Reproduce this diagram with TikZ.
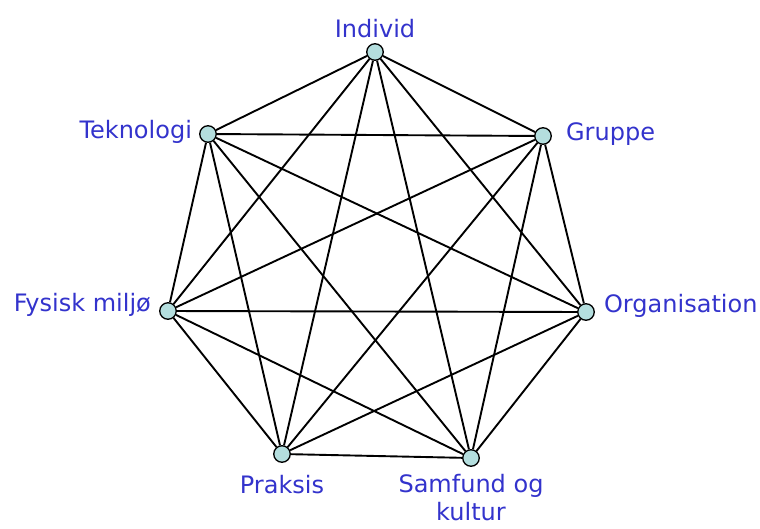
\documentclass[tikz,border=0pt]{standalone}
\usepackage{fontspec}
\setmainfont{DejaVu Sans}
\usetikzlibrary{positioning}
\definecolor{lblblue}{RGB}{51,51,204}
\definecolor{vtxfill}{RGB}{180,222,222}
\tikzset{
  vtx/.style  = {draw, circle, fill=vtxfill, minimum size=16.5pt, inner sep=0pt,
                 line width=1.3pt},
  lbl/.style  = {text=lblblue, font=\fontsize{24}{28}\selectfont, inner sep=2pt},
  edge/.style = {line width=1.9pt},
}

\begin{document}
\begin{tikzpicture}[x=1pt, y=-1pt]
  \useasboundingbox (0,0) rectangle (760,528);
  \node[vtx] (ind) at (375,52)  {};
  \node[vtx] (gru) at (543,136) {};
  \node[vtx] (org) at (586,312) {};
  \node[vtx] (sam) at (471,458) {};
  \node[vtx] (pra) at (282,454) {};
  \node[vtx] (fys) at (168,311) {};
  \node[vtx] (tek) at (208,134) {};
  % labels
  \node[lbl, above=3pt of ind] (lind) {Individ};
  \node[lbl, right=12pt of gru, yshift=2pt] (lgru) {Gruppe};
  \node[lbl, anchor=base west] (lorg) at ([xshift=7pt]org.east) {Organisation};
  \node[lbl, below=5pt of sam, align=center] (lsam) {Samfund og\\kultur};
  \node[lbl, below=10pt of pra] (lpra) {Praksis};
  \node[lbl, anchor=base east] (lfys) at ([xshift=-6pt]fys.west) {Fysisk miljø};
  \node[lbl, left=5pt of tek, yshift=2pt] (ltek) {Teknologi};
  % all pairs
  \foreach \a/\b in {ind/gru, ind/org, ind/sam, ind/pra, ind/fys, ind/tek,
                     gru/org, gru/sam, gru/pra, gru/fys, gru/tek,
                     org/sam, org/pra, org/fys, org/tek,
                     sam/pra, sam/fys, sam/tek,
                     pra/fys, pra/tek,
                     fys/tek}
    \draw[edge] (\a) -- (\b);
\end{tikzpicture}
\end{document}
